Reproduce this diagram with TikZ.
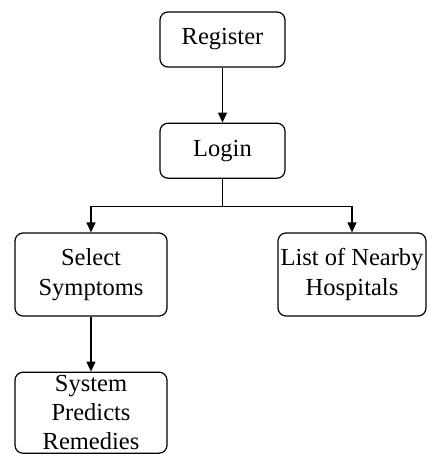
\documentclass[tikz,border=0pt]{standalone}
\usepackage{fontspec}
\setmainfont{Liberation Serif}
\usetikzlibrary{positioning,arrows.meta}
\tikzset{
	flowbox/.style={draw,
			rounded corners=8pt,
			line width=1.2pt,
			align=center,
			inner sep=0pt,
			font=\fontsize{24.5}{29.5}\selectfont
		},
	flowarrow/.style={-{Triangle[width=9pt,length=10pt]}, line width=1.2pt}
}

\begin{document}
\begin{tikzpicture}[x=1pt,y=1pt]
		\useasboundingbox (0,0) rectangle (427,-454);

		% Top
		\node[flowbox,
			minimum width=125pt,
			minimum height=55pt
		] (register) at (222.5,-39.5) {Register};

		\node[flowbox,
			minimum width=125pt,
			minimum height=55pt,
			below=55pt of register
		] (login) {Login};

		% Branches
		\node[flowbox,
			minimum width=152pt,
			minimum height=83pt
		] (select) at (91,-274.5) {Select\\Symptoms};

		\node[flowbox,
			minimum width=148pt,
			minimum height=83pt
		] (hospitals) at (352,-274.5) {List of Nearby\\Hospitals};

		\node[flowbox,
			minimum width=152pt,
			minimum height=81pt,
			font=\fontsize{24.5}{29}\selectfont,
			below=55pt of select
		] (remedies) {System\\Predicts\\Remedies};

		% Arrows
		\draw[flowarrow] (register.south) -- (login.north);

		\draw[flowarrow] (login.south) -- ++(0,-28pt) -| (select.north);

		\draw[flowarrow] (login.south) -- ++(0,-28pt) -| (hospitals.north);

		\draw[flowarrow] (select.south) -- (remedies.north);
	\end{tikzpicture}
\end{document}
